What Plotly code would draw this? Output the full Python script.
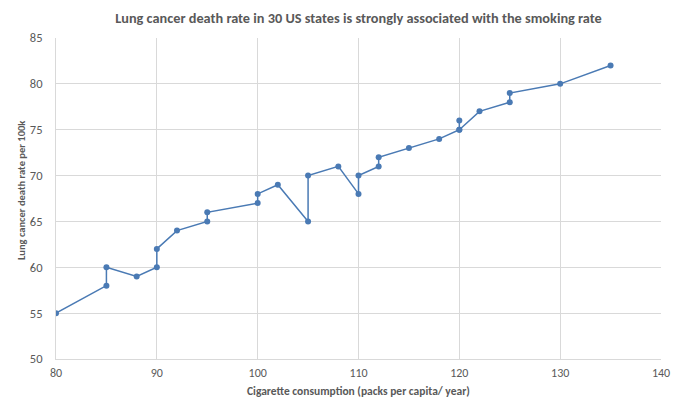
import plotly.graph_objects as go

# packs per capita per year, in the order the line joins them
packs = [80, 85, 85, 88, 90, 90, 92, 95, 95, 100, 100, 102, 105, 105, 108,
         110, 110, 112, 112, 115, 118, 120, 120, 120, 122, 125, 125, 130, 135]
# lung cancer deaths per 100k
deaths = [55, 58, 60, 59, 60, 62, 64, 65, 66, 67, 68, 69, 65, 70, 71,
          68, 70, 71, 72, 73, 74, 75, 76, 75, 77, 78, 79, 80, 82]

x_ticks = [80, 90, 100, 110, 120, 130, 140]
y_ticks = [50, 55, 60, 65, 70, 75, 80, 85]

BLUE = "#4a7ab4"
GRID = "#d9d9d9"
TEXT = "#595959"
FONT = "Calibri, Lato, sans-serif"

# the page body keeps its 8px browser margin, so the figure is 8px smaller
W, H = 672, 392

fig = go.Figure()
fig.add_trace(go.Scatter(
    x=packs, y=deaths,
    mode="lines+markers",
    line=dict(color=BLUE, width=1.5),
    marker=dict(color=BLUE, size=6),
    showlegend=False,
))

fig.update_layout(
    width=W, height=H,
    margin=dict(l=48, r=19, t=30, b=41),
    paper_bgcolor="white",
    plot_bgcolor="white",
    font=dict(family=FONT, color=TEXT, size=12.5),
    title=dict(
        text="<b>Lung cancer death rate in 30 US states is strongly associated with the smoking rate</b>",
        x=0.5, xanchor="center", xref="paper", y=1 - 10 / H, yanchor="middle",
        font=dict(size=14.3, color=TEXT),
    ),
)
fig.update_xaxes(
    range=[80, 140], tickvals=x_ticks, showgrid=True, gridcolor=GRID,
    gridwidth=1, zeroline=False, showline=True, linecolor=GRID,
    ticks="", ticklabelstandoff=3, automargin=False,
    tickfont=dict(size=12),
)
fig.update_yaxes(
    range=[50, 85], tickvals=y_ticks, showgrid=True, gridcolor=GRID,
    gridwidth=1, zeroline=False, showline=True, linecolor=GRID,
    ticks="", ticklabelstandoff=10, automargin=False,
)

# axis titles placed as annotations so the plot area stays where it is
fig.add_annotation(
    text="<b>Cigarette consumption (packs per capita/ year)</b>",
    xref="paper", yref="paper", x=0.5, y=-32 / 321, yanchor="middle",
    showarrow=False, font=dict(size=11.5, color=TEXT),
)
fig.add_annotation(
    text="<b>Lung cancer death rate per 100k</b>",
    xref="paper", yref="paper", x=-35 / 605, y=0.523, xanchor="center",
    textangle=-90, showarrow=False, font=dict(size=10.5, color=TEXT),
)

fig.write_html("out.html")
